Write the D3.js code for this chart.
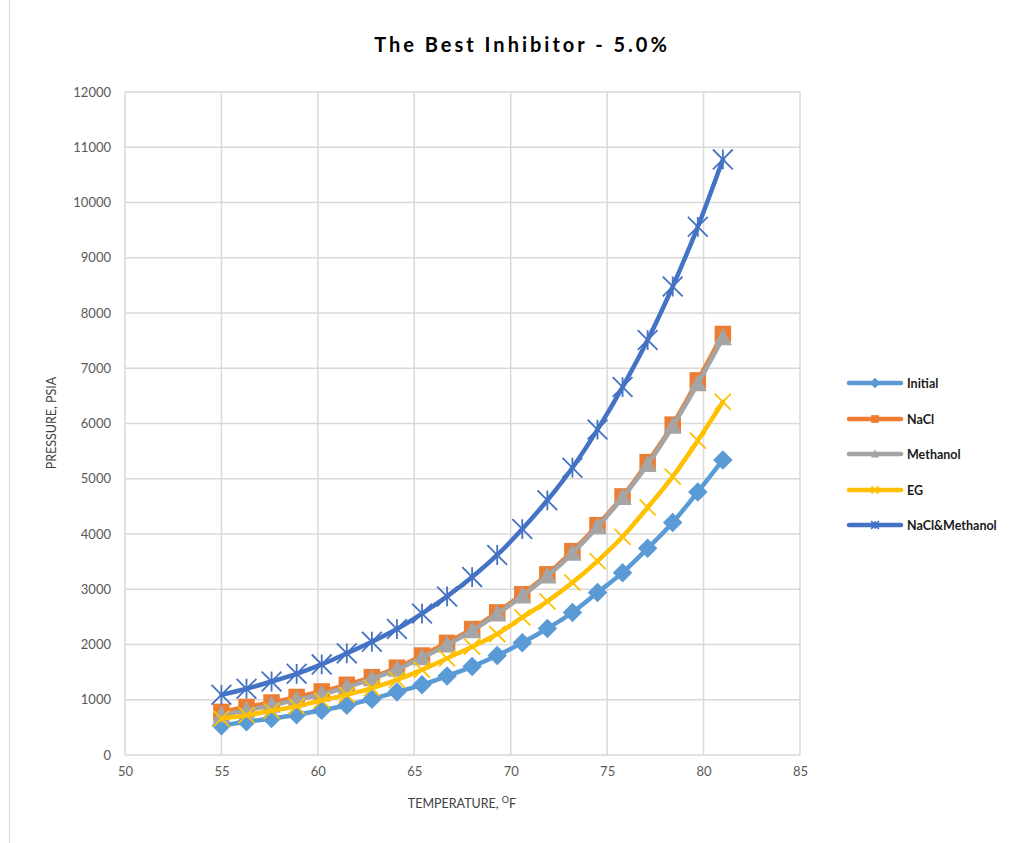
<!DOCTYPE html>
<html><head><meta charset="utf-8">
<script src="https://cdn.jsdelivr.net/npm/d3@7"></script>
<style>
body{margin:0;background:#fff;}
text{font-family:Lato,"Open Sans",sans-serif;}
</style></head>
<body><svg id="c" width="1034" height="843"></svg>
<script>
const temperature = [55,56.3,57.6,58.9,60.2,61.5,62.8,64.1,65.4,66.7,68,69.3,70.6,71.9,73.2,74.5,75.8,77.1,78.4,79.7,81];
const initialP  = [530,600,660,730,810,900,1010,1140,1270,1430,1600,1800,2030,2290,2580,2940,3300,3740,4210,4760,5340];
const naclP     = [780,870,950,1050,1150,1270,1410,1580,1800,2030,2280,2580,2910,3270,3690,4160,4680,5300,5980,6780,7620];
const methanolP = [720,810,900,1000,1100,1230,1380,1550,1760,1990,2250,2550,2880,3240,3650,4130,4660,5260,5950,6720,7550];
const egP       = [660,720,800,880,990,1090,1210,1360,1540,1750,1960,2190,2490,2780,3120,3510,3950,4480,5040,5690,6390];
const naclMethP = [1090,1200,1330,1470,1640,1840,2050,2280,2560,2870,3220,3620,4090,4610,5200,5890,6660,7510,8480,9560,10780];
const seriesNames = ["Initial","NaCl","Methanol","EG","NaCl&Methanol"];
const seriesColors = ["#5B9BD5","#ED7D31","#A5A5A5","#FFC000","#4472C4"];
const seriesMarkers = ["diamond","square","triangle","x","star"];
const xTicks = [50,55,60,65,70,75,80,85];
const yTicks = d3.range(0,12001,1000);

const svg = d3.select("#c");
const x = d3.scaleLinear().domain([50,85]).range([125,800]);
const y = d3.scaleLinear().domain([0,12000]).range([755,92]);

// chart border
svg.append("line").attr("x1",9.5).attr("x2",9.5).attr("y1",0).attr("y2",843).attr("stroke","#d9d9d9");

// gridlines
svg.append("g").selectAll("line").data(yTicks).join("line")
  .attr("x1",x(50)).attr("x2",x(85)).attr("y1",d=>y(d)).attr("y2",d=>y(d))
  .attr("stroke","#d9d9d9").attr("stroke-width",1.5);
svg.append("g").selectAll("line").data(xTicks).join("line")
  .attr("x1",d=>x(d)).attr("x2",d=>x(d)).attr("y1",y(0)).attr("y2",y(12000))
  .attr("stroke","#d9d9d9").attr("stroke-width",1.5);

// axes labels
const yAxis = d3.axisLeft(y).tickValues(yTicks).tickFormat(d3.format("d")).tickSize(0).tickPadding(14);
const gy = svg.append("g").attr("transform",`translate(${x(50)},0)`).call(yAxis);
gy.select(".domain").remove();
gy.selectAll("text").attr("font-size",13).attr("fill","#595959").attr("font-family","Lato, sans-serif");
const xAxis = d3.axisBottom(x).tickValues(xTicks).tickFormat(d3.format("d")).tickSize(0).tickPadding(12);
const gx = svg.append("g").attr("transform",`translate(0,${y(0)})`).call(xAxis);
gx.select(".domain").remove();
gx.selectAll("text").attr("font-size",13).attr("fill","#595959").attr("font-family","Lato, sans-serif");

// titles
svg.append("text").attr("x",522).attr("y",52).attr("text-anchor","middle")
  .attr("font-size",20).attr("font-weight","bold").attr("letter-spacing","3px").attr("fill","#000")
  .text("The Best Inhibitor - 5.0%");
const xt = svg.append("text").attr("x",462).attr("y",808).attr("text-anchor","middle")
  .attr("font-size",12.5).attr("fill","#404040");
xt.append("tspan").text("TEMPERATURE, ");
xt.append("tspan").attr("font-size",9).attr("dy",-5).text("O");
xt.append("tspan").attr("dy",5).text("F");
svg.append("text").attr("transform","translate(56,423) rotate(-90)").attr("text-anchor","middle")
  .attr("font-size",12.5).attr("fill","#404040").text("PRESSURE, PSIA");

const allData = [initialP,naclP,methanolP,egP,naclMethP];
const line = d3.line().x((d,i)=>x(temperature[i])).y(d=>y(d)).curve(d3.curveMonotoneX);

function drawMarker(g, type, cx, cy, color, s){
  if(type==="diamond"){
    g.append("path").attr("d",`M${cx},${cy-s*0.75}L${cx+s*0.75},${cy}L${cx},${cy+s*0.75}L${cx-s*0.75},${cy}Z`).attr("fill",color);
  } else if(type==="square"){
    g.append("rect").attr("x",cx-s*0.55).attr("y",cy-s*0.55).attr("width",s*1.1).attr("height",s*1.1).attr("fill",color);
  } else if(type==="triangle"){
    g.append("path").attr("d",`M${cx},${cy-s*0.65}L${cx+s*0.6},${cy+s*0.5}L${cx-s*0.6},${cy+s*0.5}Z`).attr("fill",color);
  } else if(type==="x"){
    const r=s*0.5;
    g.append("path").attr("d",`M${cx-r},${cy-r}L${cx+r},${cy+r}M${cx-r},${cy+r}L${cx+r},${cy-r}`).attr("stroke",color).attr("stroke-width",1.8);
  } else if(type==="star"){
    const r=s*0.55;
    g.append("path").attr("d",`M${cx-r},${cy-r}L${cx+r},${cy+r}M${cx-r},${cy+r}L${cx+r},${cy-r}M${cx},${cy-r}L${cx},${cy+r}`).attr("stroke",color).attr("stroke-width",1.8);
  }
}

const markerSizes = [13,15,15,16,18];
allData.forEach((vals,si)=>{
  const g = svg.append("g");
  g.append("path").datum(vals).attr("d",line).attr("fill","none")
    .attr("stroke",seriesColors[si]).attr("stroke-width",4.5).attr("stroke-linejoin","round").attr("stroke-linecap","round");
  vals.forEach((v,i)=>drawMarker(g,seriesMarkers[si],x(temperature[i]),y(v),seriesColors[si],markerSizes[si]));
});

// legend
const legY = [383,419,454,490,525];
seriesNames.forEach((n,i)=>{
  const g = svg.append("g");
  g.append("line").attr("x1",849).attr("x2",901).attr("y1",legY[i]).attr("y2",legY[i])
    .attr("stroke",seriesColors[i]).attr("stroke-width",4.5).attr("stroke-linecap","round");
  drawMarker(g,seriesMarkers[i],875,legY[i],seriesColors[i],7);
  g.append("text").attr("x",907).attr("y",legY[i]+4.5).attr("font-size",12.5).attr("font-weight","bold")
    .attr("fill","#1a1a1a").text(n);
});
</script></body></html>
